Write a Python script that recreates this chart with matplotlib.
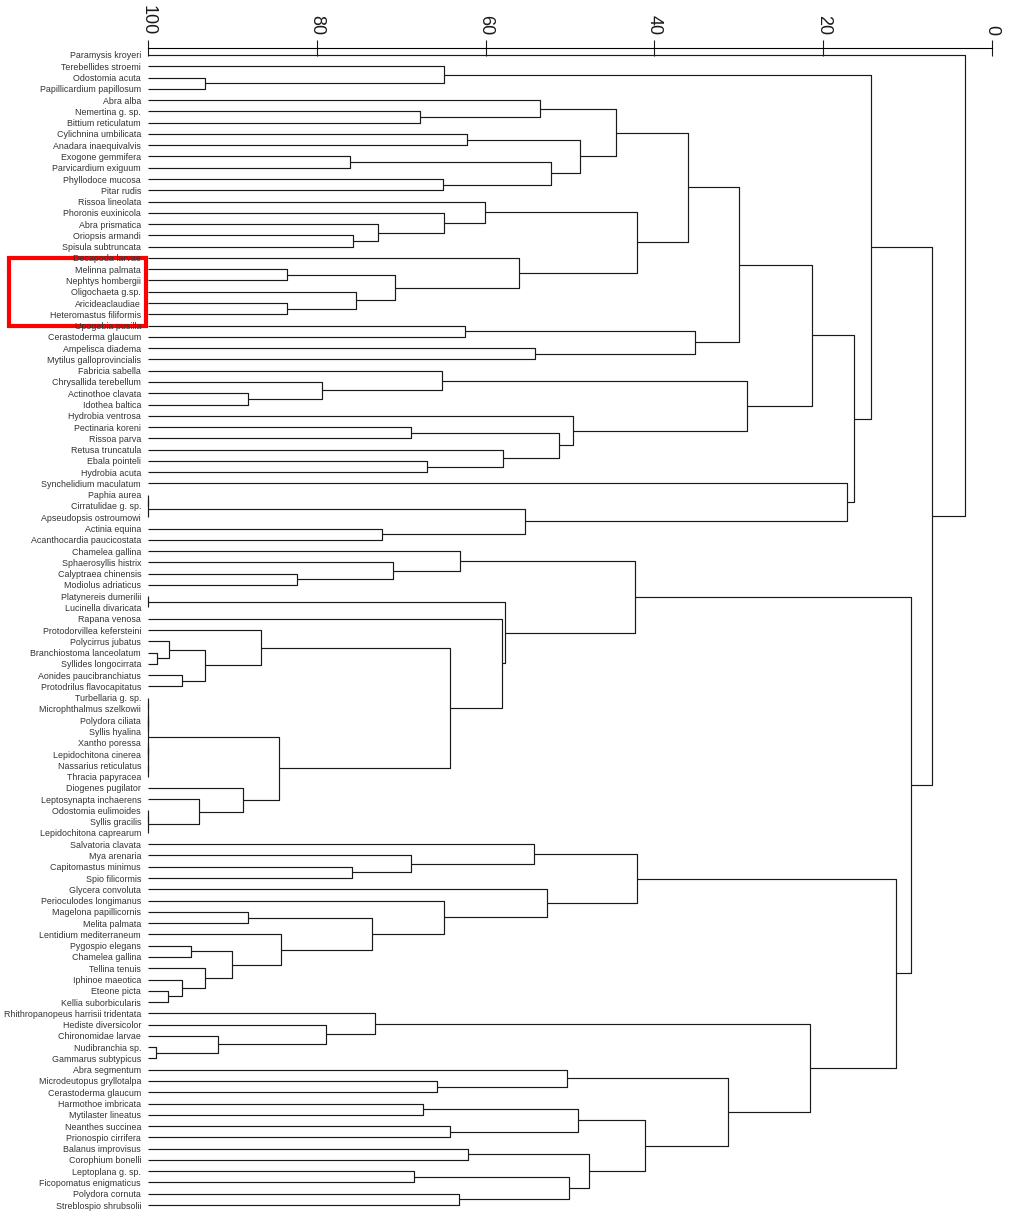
import matplotlib.pyplot as plt
from matplotlib.patches import Rectangle
import matplotlib.transforms as mtransforms

plt.rcParams['font.family'] = ['Liberation Sans', 'DejaVu Sans']

# leaf labels, top to bottom
species = [
    "Paramysis kroyeri", "Terebellides stroemi", "Odostomia acuta",
    "Papillicardium papillosum", "Abra alba", "Nemertina g. sp.",
    "Bittium reticulatum", "Cylichnina umbilicata", "Anadara inaequivalvis",
    "Exogone gemmifera", "Parvicardium exiguum", "Phyllodoce mucosa",
    "Pitar rudis", "Rissoa lineolata", "Phoronis euxinicola",
    "Abra prismatica", "Oriopsis armandi", "Spisula subtruncata",
    "Decapoda larvae", "Melinna palmata", "Nephtys hombergii",
    "Oligochaeta g.sp.", "Aricideaclaudiae", "Heteromastus filiformis",
    "Upogebia pusilla", "Cerastoderma glaucum", "Ampelisca diadema",
    "Mytilus galloprovincialis", "Fabricia sabella", "Chrysallida terebellum",
    "Actinothoe clavata", "Idothea baltica", "Hydrobia ventrosa",
    "Pectinaria koreni", "Rissoa parva", "Retusa truncatula",
    "Ebala pointeli", "Hydrobia acuta", "Synchelidium maculatum",
    "Paphia aurea", "Cirratulidae g. sp.", "Apseudopsis ostroumowi",
    "Actinia equina", "Acanthocardia paucicostata", "Chamelea gallina",
    "Sphaerosyllis histrix", "Calyptraea chinensis", "Modiolus adriaticus",
    "Platynereis dumerilii", "Lucinella divaricata", "Rapana venosa",
    "Protodorvillea kefersteini", "Polycirrus jubatus", "Branchiostoma lanceolatum",
    "Syllides longocirrata", "Aonides paucibranchiatus", "Protodrilus flavocapitatus",
    "Turbellaria g. sp.", "Microphthalmus szelkowii", "Polydora ciliata",
    "Syllis hyalina", "Xantho poressa", "Lepidochitona cinerea",
    "Nassarius reticulatus", "Thracia papyracea", "Diogenes pugilator",
    "Leptosynapta inchaerens", "Odostomia eulimoides", "Syllis gracilis",
    "Lepidochitona caprearum", "Salvatoria clavata", "Mya arenaria",
    "Capitomastus minimus", "Spio filicormis", "Glycera convoluta",
    "Perioculodes longimanus", "Magelona papillicornis", "Melita palmata",
    "Lentidium mediterraneum", "Pygospio elegans", "Chamelea gallina",
    "Tellina tenuis", "Iphinoe maeotica", "Eteone picta",
    "Kellia suborbicularis", "Rhithropanopeus harrisii tridentata", "Hediste diversicolor",
    "Chironomidae larvae", "Nudibranchia sp.", "Gammarus subtypicus",
    "Abra segmentum", "Microdeutopus gryllotalpa", "Cerastoderma glaucum",
    "Harmothoe imbricata", "Mytilaster lineatus", "Neanthes succinea",
    "Prionospio cirrifera", "Balanus improvisus", "Corophium bonelli",
    "Leptoplana g. sp.", "Ficopomatus enigmaticus", "Polydora cornuta",
    "Streblospio shrubsolii",
]

# merges: (node, left, right, similarity %) -- ints are leaf indices
merges = [
    ("t1", 2, 3, 93.3), ("t2", 1, "t1", 64.9),
    ("a1", 5, 6, 67.8), ("a2", 4, "a1", 53.5),
    ("c1", 7, 8, 62.2), ("c2", 9, 10, 76.1), ("c3", 11, 12, 65.1),
    ("c4", "c2", "c3", 52.2), ("c5", "c1", "c4", 48.8), ("c6", "a2", "c5", 44.5),
    ("r1", 16, 17, 75.7), ("r2", 15, "r1", 72.8), ("r3", 14, "r2", 64.9),
    ("r4", 13, "r3", 60.1),
    ("m1", 19, 20, 83.5), ("m2", 22, 23, 83.5), ("m3", 21, "m2", 75.3),
    ("m4", "m1", "m3", 70.7), ("m5", 18, "m4", 56.1),
    ("r5", "r4", "m5", 42.1), ("g1", "c6", "r5", 36.0),
    ("u1", 24, 25, 62.4), ("u2", 26, 27, 54.2), ("u3", "u1", "u2", 35.2),
    ("g2", "g1", "u3", 30.0),
    ("f1", 30, 31, 88.2), ("f2", 29, "f1", 79.4), ("f3", 28, "f2", 65.2),
    ("h1", 33, 34, 68.8), ("h2", 36, 37, 66.9), ("h3", 35, "h2", 57.9),
    ("h4", "h1", "h3", 51.3), ("h5", 32, "h4", 49.7),
    ("f4", "f3", "h5", 29.0), ("g3", "g2", "f4", 21.3),
    ("p1", 39, 40, 100), ("p2", "p1", 41, 100), ("p3", 42, 43, 72.3),
    ("p4", "p2", "p3", 55.3), ("s1", 38, "p4", 17.2),
    ("g4", "g3", "s1", 16.4), ("g5", "t2", "g4", 14.3),
    ("k1", 46, 47, 82.3), ("k2", 45, "k1", 71.0), ("k3", 44, "k2", 63.0),
    ("l1", 48, 49, 100),
    ("q1", 53, 54, 98.9), ("q2", 52, "q1", 97.5), ("q3", 55, 56, 96.0),
    ("q4", "q2", "q3", 93.3), ("q5", 51, "q4", 86.6),
    ("z1", 57, 58, 100), ("z2", 59, 60, 100), ("z3", 61, 62, 100),
    ("z4", 63, 64, 100), ("z5", "z1", "z2", 100), ("z6", "z3", "z4", 100),
    ("z7", "z5", "z6", 100),
    ("d1", 67, 68, 100), ("d2", "d1", 69, 100), ("d3", 66, "d2", 94.0),
    ("d4", 65, "d3", 88.8),
    ("z8", "z7", "d4", 84.5), ("q6", "q5", "z8", 64.2),
    ("l2", 50, "q6", 58.1), ("l3", "l1", "l2", 57.7), ("k4", "k3", "l3", 42.3),
    ("v1", 72, 73, 75.8), ("v2", 71, "v1", 68.8), ("v3", 70, "v2", 54.3),
    ("w1", 76, 77, 88.2), ("w2", 79, 80, 94.9), ("w3", 83, 84, 97.6),
    ("w4", 82, "w3", 96.0), ("w5", 81, "w4", 93.2), ("w6", "w2", "w5", 90.0),
    ("w7", 78, "w6", 84.2), ("w8", "w1", "w7", 73.5), ("w9", 75, "w8", 64.9),
    ("w10", 74, "w9", 52.7), ("v4", "v3", "w10", 42.1),
    ("e1", 88, 89, 99.1), ("e2", 87, "e1", 91.7), ("e3", 86, "e2", 78.9),
    ("e4", 85, "e3", 73.1),
    ("b1", 91, 92, 65.8), ("b2", 90, "b1", 50.4),
    ("b3", 93, 94, 67.4), ("b4", 95, 96, 64.2), ("b5", "b3", "b4", 49.1),
    ("b6", 97, 98, 62.1), ("b7", 99, 100, 68.5), ("b8", 101, 102, 63.1),
    ("b9", "b7", "b8", 50.1), ("b10", "b6", "b9", 47.7),
    ("b11", "b5", "b10", 41.1), ("b12", "b2", "b11", 31.3),
    ("e5", "e4", "b12", 21.6), ("v5", "v4", "e5", 11.4),
    ("k5", "k4", "v5", 9.6), ("g6", "g5", "k5", 7.1),
    ("root", 0, "g6", 3.2),
]

xticks = [100, 80, 60, 40, 20, 0]
highlight = (19, 23)  # Melinna palmata .. Heteromastus filiformis

fig = plt.figure(figsize=(10.09, 12.12), dpi=100)
ax = fig.add_axes([148 / 1009, 0, 844 / 1009, 1164 / 1212])

# position of every node: (height, y)
pos = {i: (100.0, float(i)) for i in range(len(species))}
line_kw = dict(color='#1a1a1a', lw=0.85, clip_on=False, solid_capstyle='butt')
for name, left, right, h in merges:
    hl, yl = pos[left]
    hr, yr = pos[right]
    ax.plot([hl, h, h, hr], [yl, yl, yr, yr], **line_kw)
    pos[name] = (h, (yl + yr) / 2)

n = len(species)
ax.set_xlim(100, 0)
ax.set_ylim(n - 1 + 0.62, -0.62)

ax.xaxis.tick_top()
ax.set_xticks(xticks)
ax.set_xticklabels([str(t) for t in xticks])
ax.tick_params(axis='x', direction='inout', length=12, width=0.8, pad=3,
               labelsize=13, labelrotation=-90, colors='#1a1a1a')
ax.set_yticks(range(n))
ax.set_yticklabels(species, fontsize=6.4, color='#333333')
ax.tick_params(axis='y', length=0, pad=5)
for side in ['left', 'right', 'bottom']:
    ax.spines[side].set_visible(False)
ax.spines['top'].set_linewidth(0.8)

# red highlight box around the Melinna group
trans = mtransforms.blended_transform_factory(fig.transFigure, ax.transData)
ax.add_patch(Rectangle((9 / 1009, highlight[0] - 1), 137 / 1009,
                       highlight[1] - highlight[0] + 2, transform=trans,
                       fill=False, edgecolor='#ff0000', lw=3, clip_on=False))

fig.savefig("out.png", dpi=100)
